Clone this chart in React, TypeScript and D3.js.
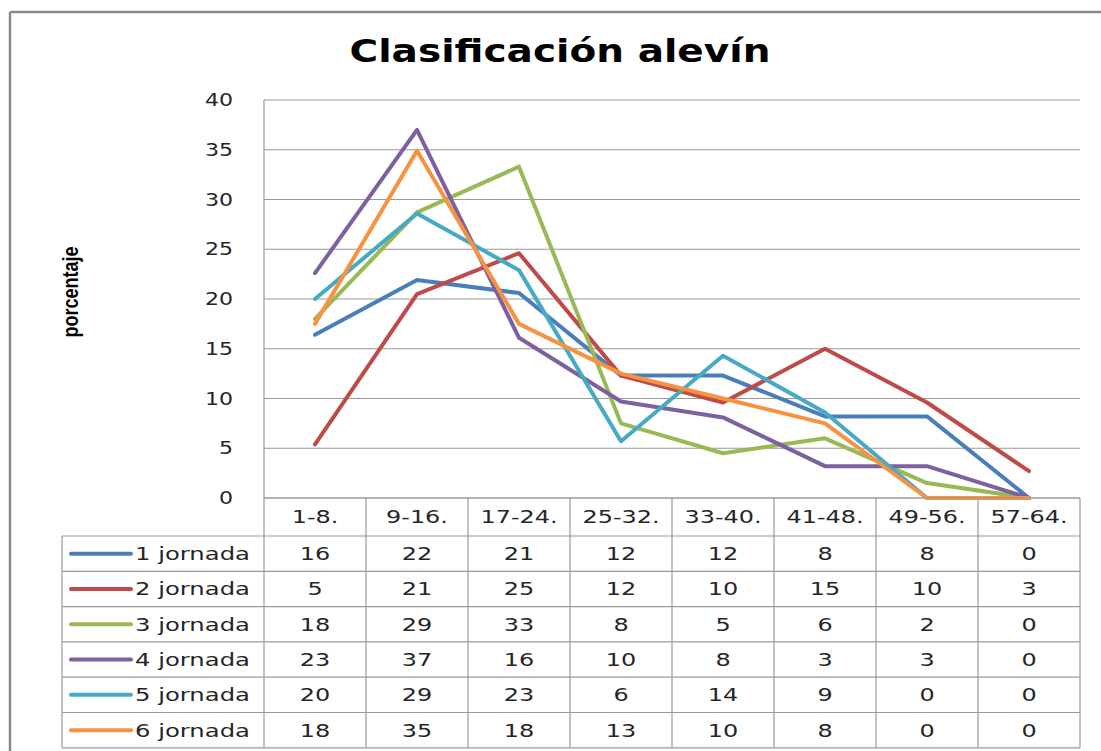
import * as d3 from 'd3';

const categories = ['1-8.', '9-16.', '17-24.', '25-32.', '33-40.', '41-48.', '49-56.', '57-64.'];
const seriesNames = ['1 jornada', '2 jornada', '3 jornada', '4 jornada', '5 jornada', '6 jornada'];
const seriesColors = ['#4A7EBB', '#BE4B48', '#98B954', '#7D60A0', '#46AAC5', '#F69240'];

const jornada1 = [16.4, 21.9, 20.6, 12.3, 12.3, 8.2, 8.2, 0];
const jornada2 = [5.4, 20.5, 24.6, 12.3, 9.6, 15.0, 9.6, 2.7];
const jornada3 = [18.0, 28.7, 33.3, 7.5, 4.5, 6.0, 1.5, 0];
const jornada4 = [22.6, 37.0, 16.1, 9.7, 8.1, 3.2, 3.2, 0];
const jornada5 = [20.0, 28.6, 22.9, 5.7, 14.3, 8.6, 0, 0];
const jornada6 = [17.5, 34.9, 17.5, 12.5, 10.0, 7.5, 0, 0];
const seriesValues = [jornada1, jornada2, jornada3, jornada4, jornada5, jornada6];

const yTicks = [0, 5, 10, 15, 20, 25, 30, 35, 40];

const W = 1101;
const H = 751;
const plotLeft = 264;
const plotRight = 1080;
const plotTop = 100;
const plotBottom = 498;
const headerBottom = 536;
const rowH = 35.3;
const legendLeft = 62;

const FONT = '"DejaVu Sans", Verdana, sans-serif';
const SX = 1.33;

function SText({ x, y, children, size = 18, anchor = 'middle', sx = SX, weight = 'normal', fill = '#262626' }: any) {
  return (
    <text
      transform={`translate(${x},${y}) scale(${sx},1)`}
      textAnchor={anchor}
      dy="0.36em"
      fontFamily={FONT}
      fontSize={size}
      fontWeight={weight}
      fill={fill}
    >
      {children}
    </text>
  );
}

export default function App() {
  const x = d3.scaleBand<string>().domain(categories).range([plotLeft, plotRight]).padding(0);
  const cx = (c: string) => (x(c) as number) + x.bandwidth() / 2;
  const y = d3.scaleLinear().domain([0, 40]).range([plotBottom, plotTop]);

  const line = d3.line<number>()
    .x((_, i) => cx(categories[i]))
    .y(d => y(d));

  const colEdges = categories.map(c => x(c) as number).concat([plotRight]);
  const tableBottom = headerBottom + rowH * seriesNames.length;
  const grid = '#999';

  return (
    <div style={{ position: 'absolute', left: 0, top: 0 }}>
      <svg width={W} height={H} style={{ display: 'block', background: '#fff' }}>
        {/* chart border */}
        <line x1={10} x2={W} y1={12} y2={12} stroke="#8a8a8a" strokeWidth={2.5} />
        <line x1={10} x2={10} y1={12} y2={H} stroke="#8a8a8a" strokeWidth={2.5} />

        <SText x={560} y={50} size={32} weight="bold" sx={1.22} fill="#000">Clasificación alevín</SText>

        <text
          transform={`translate(70,292) rotate(-90) scale(1,1.25)`}
          textAnchor="middle"
          dy="0.35em"
          fontFamily='"Liberation Sans Narrow", "Arial Narrow", sans-serif'
          fontWeight="bold"
          fontSize={18}
          fill="#000"
        >
          porcentaje
        </text>

        {/* gridlines */}
        {yTicks.map(t => (
          <g key={t}>
            <line x1={plotLeft} x2={plotRight} y1={y(t)} y2={y(t)} stroke={grid} strokeWidth={1.2} />
            <SText x={233} y={y(t)} size={17} anchor="end" sx={1.3}>{t}</SText>
          </g>
        ))}
        <line x1={plotLeft} x2={plotLeft} y1={plotTop} y2={plotBottom} stroke={grid} strokeWidth={1.2} />

        {/* series */}
        {seriesValues.map((vals, i) => (
          <path key={i} d={line(vals) as string} fill="none" stroke={seriesColors[i]} strokeWidth={4} strokeLinejoin="round" strokeLinecap="round" />
        ))}

        {/* table: header row */}
        {colEdges.map((e, i) => (
          <line key={'hv' + i} x1={e} x2={e} y1={plotBottom} y2={tableBottom} stroke={grid} strokeWidth={1.2} />
        ))}
        <line x1={plotLeft} x2={plotRight} y1={plotBottom} y2={plotBottom} stroke={grid} strokeWidth={1.2} />
        {categories.map(c => (
          <SText key={c} x={cx(c)} y={(plotBottom + headerBottom) / 2}>{c}</SText>
        ))}

        {/* table rows */}
        <line x1={legendLeft} x2={legendLeft} y1={headerBottom} y2={tableBottom} stroke={grid} strokeWidth={1.2} />
        {seriesNames.map((name, i) => {
          const top = headerBottom + rowH * i;
          const mid = top + rowH / 2;
          return (
            <g key={name}>
              <line x1={legendLeft} x2={plotRight} y1={top} y2={top} stroke={grid} strokeWidth={1.2} />
              <line x1={71} x2={131} y1={mid} y2={mid} stroke={seriesColors[i]} strokeWidth={4} strokeLinecap="round" />
              <SText x={135} y={mid} anchor="start" sx={1.35}>{name}</SText>
              {seriesValues[i].map((v, j) => (
                <SText key={j} x={cx(categories[j])} y={mid}>{Math.round(v)}</SText>
              ))}
            </g>
          );
        })}
        <line x1={legendLeft} x2={plotRight} y1={tableBottom} y2={tableBottom} stroke={grid} strokeWidth={1.2} />
      </svg>
    </div>
  );
}
